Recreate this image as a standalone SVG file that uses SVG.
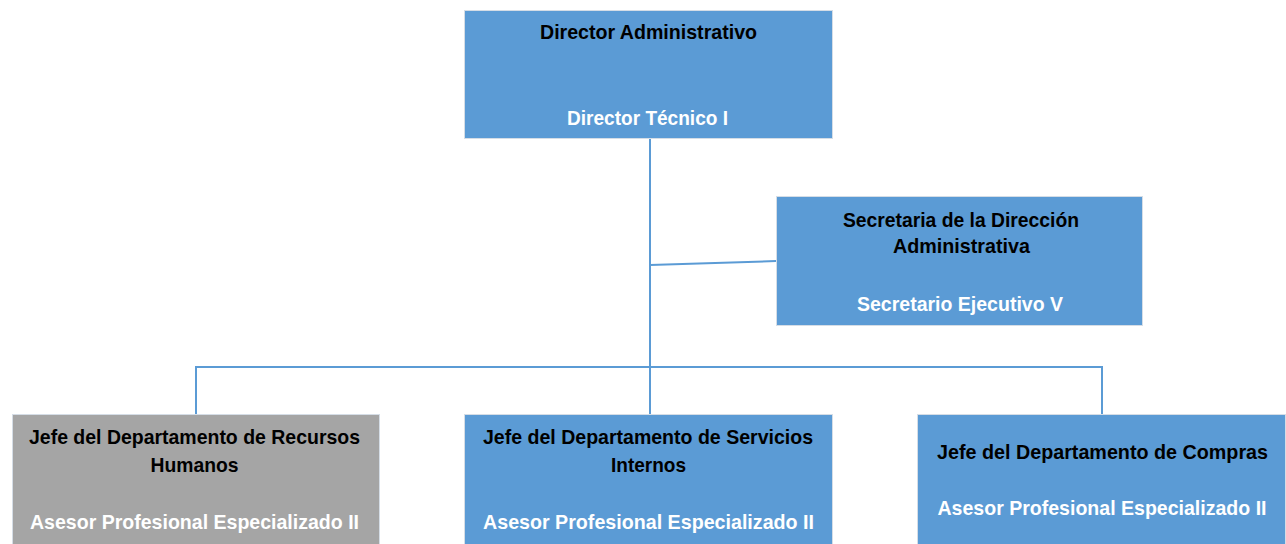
<svg xmlns="http://www.w3.org/2000/svg" width="1286" height="544" viewBox="0 0 1286 544">
<defs>
<style>
.box{fill:#5b9bd5;stroke:#d5dde6;stroke-width:1}
.gray{fill:#a5a5a5;stroke:#d5dde6;stroke-width:1}
.t{font-family:"Liberation Sans",Arial,sans-serif;font-weight:bold;font-size:20.5px;text-anchor:middle}
.k{fill:#000000}
.w{fill:#ffffff}
.c{fill:none;stroke:#5b9bd5;stroke-width:2}
</style>
</defs>
<rect x="0" y="0" width="1286" height="544" fill="#ffffff"/>
<g id="connectors">
<line class="c" x1="650" y1="139" x2="650" y2="414"/>
<line class="c" x1="650" y1="265" x2="776" y2="261"/>
<polyline class="c" points="196,414 196,367 1102,367 1102,414"/>
</g>
<g id="director">
<rect class="box" x="464.5" y="10.5" width="368" height="128"/>
<text class="t k" x="648.5" y="39" textLength="217" lengthAdjust="spacingAndGlyphs">Director Administrativo</text>
<text class="t w" x="647.5" y="125" textLength="161" lengthAdjust="spacingAndGlyphs">Director Técnico I</text>
</g>
<g id="secretaria">
<rect class="box" x="776.5" y="196.5" width="366" height="129"/>
<text class="t k" x="961" y="227" textLength="236" lengthAdjust="spacingAndGlyphs">Secretaria de la Dirección</text>
<text class="t k" x="961.5" y="253" textLength="137" lengthAdjust="spacingAndGlyphs">Administrativa</text>
<text class="t w" x="960" y="311" textLength="206" lengthAdjust="spacingAndGlyphs">Secretario Ejecutivo V</text>
</g>
<g id="rrhh">
<rect class="gray" x="12.5" y="414.5" width="367" height="140"/>
<text class="t k" x="194.5" y="443.5" textLength="331" lengthAdjust="spacingAndGlyphs">Jefe del Departamento de Recursos</text>
<text class="t k" x="194.5" y="471.5" textLength="88" lengthAdjust="spacingAndGlyphs">Humanos</text>
<text class="t w" x="194.5" y="528.5" textLength="329" lengthAdjust="spacingAndGlyphs">Asesor Profesional Especializado II</text>
</g>
<g id="servicios">
<rect class="box" x="464.5" y="414.5" width="368" height="140"/>
<text class="t k" x="648" y="443.5" textLength="330" lengthAdjust="spacingAndGlyphs">Jefe del Departamento de Servicios</text>
<text class="t k" x="648.5" y="471.5" textLength="75" lengthAdjust="spacingAndGlyphs">Internos</text>
<text class="t w" x="648.5" y="528.5" textLength="331" lengthAdjust="spacingAndGlyphs">Asesor Profesional Especializado II</text>
</g>
<g id="compras">
<rect class="box" x="917.5" y="414.5" width="368" height="140"/>
<text class="t k" x="1102.5" y="458.5" textLength="331" lengthAdjust="spacingAndGlyphs">Jefe del Departamento de Compras</text>
<text class="t w" x="1102" y="515" textLength="329" lengthAdjust="spacingAndGlyphs">Asesor Profesional Especializado II</text>
</g>
</svg>
